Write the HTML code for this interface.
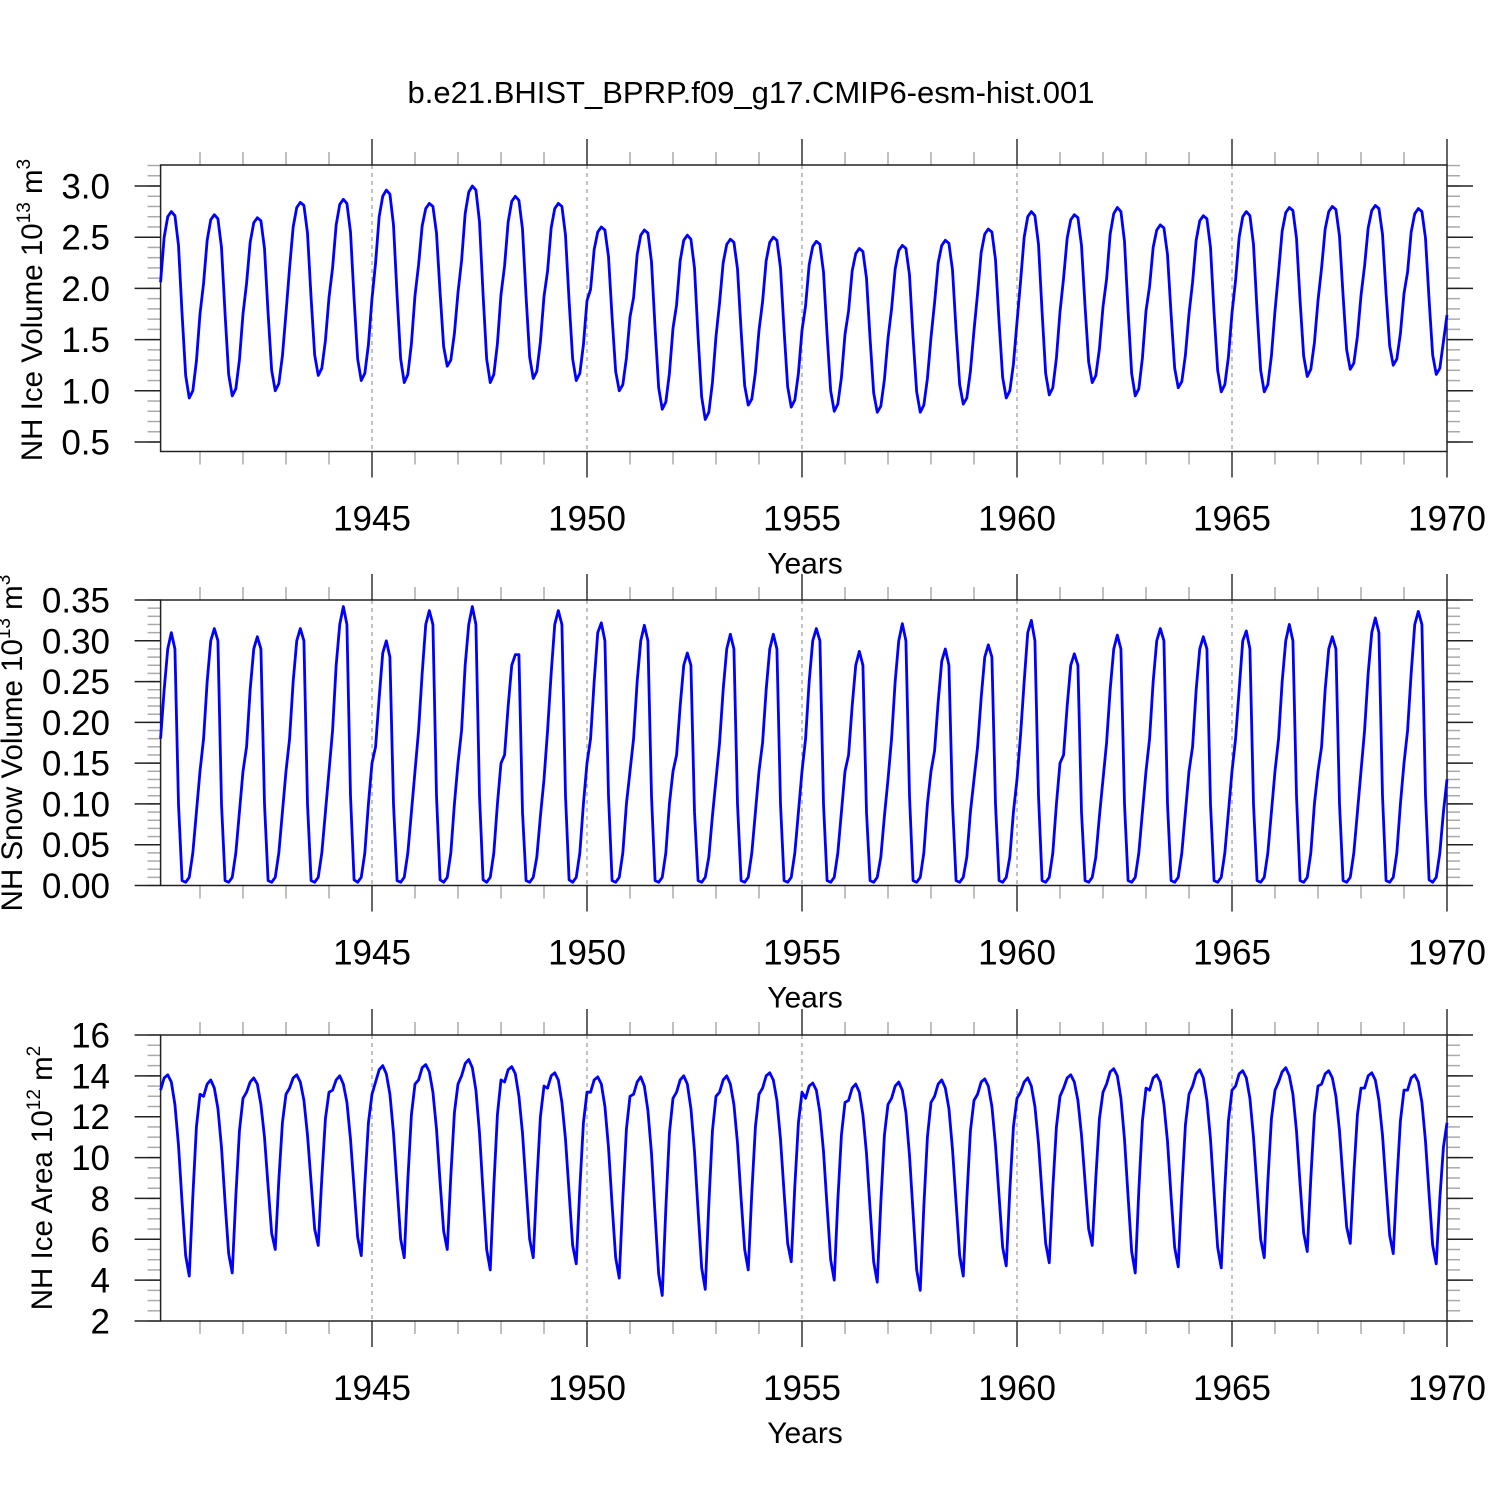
<!DOCTYPE html>
<html><head><meta charset="utf-8">
<style>
body{margin:0;background:#fff;}
svg{display:block;font-family:"Liberation Sans",sans-serif;}
</style></head>
<body>
<svg id="chart" width="1500" height="1500" viewBox="0 0 1500 1500">
<rect width="1500" height="1500" fill="#fff"/>
<text x="751" y="103" text-anchor="middle" font-size="31" fill="#000">b.e21.BHIST_BPRP.f09_g17.CMIP6-esm-hist.001</text>
</svg>
<script>
const iceVolume = [
2.06,2.50,2.70,2.75,2.71,2.42,1.75,1.15,0.93,1.00,1.29,1.75,
2.05,2.47,2.67,2.72,2.68,2.40,1.75,1.16,0.95,1.02,1.30,1.75,
2.05,2.45,2.64,2.69,2.66,2.39,1.76,1.20,1.00,1.07,1.34,1.76,
2.20,2.60,2.79,2.84,2.81,2.54,1.91,1.35,1.15,1.22,1.49,1.91,
2.20,2.62,2.82,2.87,2.83,2.55,1.90,1.31,1.10,1.17,1.45,1.90,
2.25,2.70,2.90,2.96,2.92,2.62,1.93,1.31,1.08,1.16,1.46,1.93,
2.23,2.61,2.78,2.83,2.80,2.54,1.96,1.43,1.24,1.30,1.56,1.96,
2.27,2.73,2.94,3.00,2.96,2.65,1.94,1.31,1.08,1.16,1.46,1.94,
2.22,2.65,2.85,2.90,2.86,2.58,1.92,1.33,1.12,1.19,1.48,1.92,
2.17,2.59,2.78,2.83,2.80,2.52,1.88,1.31,1.10,1.17,1.45,1.88,
1.99,2.38,2.55,2.60,2.57,2.31,1.72,1.19,1.00,1.06,1.32,1.72,
1.91,2.33,2.52,2.57,2.54,2.26,1.61,1.03,0.82,0.89,1.17,1.61,
1.84,2.27,2.47,2.52,2.48,2.20,1.53,0.94,0.72,0.79,1.08,1.53,
1.86,2.25,2.43,2.48,2.45,2.19,1.59,1.05,0.86,0.92,1.18,1.59,
1.87,2.27,2.45,2.50,2.47,2.20,1.59,1.04,0.84,0.91,1.17,1.59,
1.83,2.23,2.41,2.46,2.43,2.16,1.55,1.00,0.80,0.87,1.13,1.55,
1.78,2.17,2.34,2.39,2.36,2.10,1.51,0.98,0.79,0.85,1.11,1.51,
1.80,2.19,2.37,2.42,2.39,2.13,1.52,0.99,0.79,0.86,1.12,1.52,
1.86,2.25,2.42,2.47,2.44,2.18,1.59,1.06,0.87,0.93,1.19,1.59,
1.95,2.35,2.53,2.58,2.55,2.28,1.67,1.13,0.93,1.00,1.26,1.67,
2.07,2.50,2.70,2.75,2.71,2.43,1.77,1.17,0.96,1.03,1.32,1.77,
2.10,2.49,2.67,2.72,2.69,2.42,1.82,1.28,1.08,1.15,1.41,1.82,
2.09,2.53,2.73,2.79,2.75,2.46,1.78,1.17,0.95,1.02,1.32,1.78,
2.02,2.40,2.57,2.62,2.59,2.33,1.75,1.22,1.03,1.09,1.35,1.75,
2.06,2.47,2.66,2.71,2.68,2.40,1.76,1.20,0.99,1.06,1.33,1.76,
2.08,2.50,2.70,2.75,2.71,2.43,1.78,1.20,0.99,1.06,1.34,1.78,
2.16,2.56,2.74,2.79,2.76,2.49,1.88,1.34,1.14,1.21,1.47,1.88,
2.20,2.58,2.75,2.80,2.77,2.51,1.93,1.40,1.21,1.27,1.53,1.93,
2.22,2.59,2.76,2.81,2.78,2.53,1.95,1.44,1.25,1.31,1.56,1.95,
2.16,2.55,2.73,2.78,2.75,2.49,1.89,1.35,1.16,1.22,1.48,1.74];
const snowVolume = [
0.18,0.24,0.29,0.31,0.29,0.10,0.006,0.004,0.01,0.04,0.09,0.14,
0.18,0.25,0.30,0.315,0.30,0.10,0.006,0.004,0.01,0.04,0.09,0.14,
0.17,0.24,0.29,0.305,0.29,0.10,0.006,0.004,0.01,0.04,0.09,0.14,
0.18,0.25,0.30,0.315,0.30,0.10,0.006,0.004,0.01,0.04,0.09,0.14,
0.19,0.27,0.32,0.342,0.32,0.11,0.007,0.004,0.01,0.04,0.10,0.15,
0.17,0.23,0.285,0.30,0.28,0.10,0.006,0.004,0.01,0.04,0.09,0.14,
0.19,0.26,0.32,0.337,0.32,0.11,0.007,0.004,0.01,0.04,0.10,0.15,
0.19,0.27,0.32,0.342,0.32,0.11,0.007,0.004,0.01,0.04,0.10,0.15,
0.16,0.22,0.27,0.283,0.283,0.09,0.006,0.004,0.01,0.035,0.085,0.13,
0.19,0.26,0.32,0.337,0.32,0.11,0.007,0.004,0.01,0.04,0.10,0.15,
0.18,0.25,0.31,0.322,0.30,0.11,0.006,0.004,0.01,0.04,0.10,0.14,
0.18,0.25,0.30,0.319,0.30,0.11,0.006,0.004,0.01,0.04,0.10,0.14,
0.16,0.22,0.27,0.285,0.27,0.09,0.006,0.004,0.01,0.035,0.085,0.13,
0.175,0.24,0.29,0.308,0.29,0.10,0.006,0.004,0.01,0.04,0.09,0.14,
0.175,0.24,0.29,0.308,0.29,0.10,0.006,0.004,0.01,0.04,0.09,0.14,
0.18,0.25,0.30,0.315,0.30,0.10,0.006,0.004,0.01,0.04,0.09,0.14,
0.16,0.22,0.27,0.287,0.27,0.09,0.006,0.004,0.01,0.035,0.085,0.13,
0.18,0.25,0.30,0.321,0.30,0.11,0.006,0.004,0.01,0.04,0.10,0.14,
0.165,0.225,0.275,0.29,0.27,0.10,0.006,0.004,0.01,0.035,0.09,0.13,
0.17,0.23,0.28,0.295,0.28,0.10,0.006,0.004,0.01,0.035,0.09,0.13,
0.185,0.25,0.31,0.325,0.30,0.11,0.006,0.004,0.01,0.04,0.10,0.15,
0.16,0.22,0.27,0.284,0.27,0.09,0.006,0.004,0.01,0.035,0.085,0.13,
0.175,0.24,0.29,0.307,0.29,0.10,0.006,0.004,0.01,0.04,0.09,0.14,
0.18,0.25,0.30,0.315,0.30,0.10,0.006,0.004,0.01,0.04,0.09,0.14,
0.17,0.24,0.29,0.305,0.29,0.10,0.006,0.004,0.01,0.04,0.09,0.14,
0.18,0.24,0.30,0.312,0.29,0.10,0.006,0.004,0.01,0.04,0.09,0.14,
0.18,0.25,0.30,0.320,0.30,0.11,0.006,0.004,0.01,0.04,0.10,0.14,
0.17,0.24,0.29,0.305,0.29,0.10,0.006,0.004,0.01,0.04,0.09,0.14,
0.19,0.26,0.31,0.328,0.31,0.11,0.006,0.004,0.01,0.04,0.10,0.15,
0.19,0.26,0.32,0.336,0.32,0.11,0.007,0.004,0.01,0.04,0.09,0.13];
const iceArea = [
13.3,13.9,14.05,13.7,12.6,10.6,7.8,5.2,4.2,8.1,11.5,13.1,
13.0,13.6,13.8,13.4,12.4,10.5,7.8,5.3,4.35,8.1,11.3,12.9,
13.2,13.7,13.9,13.6,12.6,11.0,8.6,6.3,5.5,8.9,11.7,13.1,
13.4,13.9,14.05,13.7,12.8,11.1,8.8,6.5,5.7,9.0,11.9,13.2,
13.3,13.8,14.0,13.6,12.7,10.9,8.5,6.1,5.2,8.7,11.7,13.1,
13.7,14.3,14.5,14.1,13.1,11.2,8.6,6.0,5.1,8.9,12.1,13.6,
13.8,14.4,14.55,14.2,13.2,11.4,8.8,6.4,5.5,9.1,12.2,13.6,
14.0,14.6,14.8,14.4,13.3,11.2,8.3,5.5,4.5,8.6,12.1,13.8,
13.7,14.3,14.45,14.1,13.0,11.2,8.6,6.0,5.1,8.8,12.0,13.5,
13.4,14.0,14.15,13.8,12.7,10.9,8.3,5.7,4.8,8.5,11.7,13.2,
13.2,13.8,13.95,13.6,12.5,10.5,7.7,5.1,4.1,8.0,11.4,13.0,
13.1,13.7,13.95,13.5,12.3,10.2,7.2,4.3,3.25,7.5,11.2,12.9,
13.2,13.8,14.0,13.6,12.4,10.3,7.4,4.6,3.55,7.7,11.3,13.0,
13.2,13.8,14.0,13.6,12.6,10.7,8.0,5.5,4.5,8.3,11.5,13.1,
13.4,14.0,14.15,13.8,12.8,10.9,8.3,5.8,4.9,8.6,11.7,13.2,
12.9,13.5,13.65,13.3,12.2,10.3,7.6,5.0,4.0,7.9,11.1,12.7,
12.8,13.4,13.6,13.2,12.1,10.2,7.5,4.9,3.9,7.8,11.1,12.6,
12.9,13.5,13.7,13.3,12.2,10.1,7.3,4.5,3.5,7.6,11.0,12.7,
13.0,13.6,13.8,13.4,12.4,10.4,7.8,5.2,4.2,8.0,11.3,12.8,
13.1,13.7,13.85,13.5,12.5,10.6,8.1,5.6,4.7,8.4,11.5,12.9,
13.2,13.7,13.9,13.5,12.5,10.7,8.2,5.8,4.85,8.5,11.5,13.0,
13.4,13.9,14.05,13.7,12.8,11.1,8.8,6.5,5.7,9.0,11.9,13.2,
13.6,14.2,14.35,14.0,12.9,10.9,8.1,5.4,4.35,8.4,11.8,13.4,
13.3,13.9,14.05,13.7,12.6,10.8,8.1,5.6,4.65,8.4,11.6,13.1,
13.5,14.1,14.3,13.9,12.8,10.9,8.2,5.6,4.6,8.5,11.8,13.3,
13.5,14.1,14.25,13.9,12.9,11.0,8.5,6.0,5.1,8.8,11.9,13.3,
13.7,14.2,14.4,14.0,13.1,11.3,8.7,6.3,5.4,9.0,12.1,13.5,
13.6,14.1,14.25,13.9,13.0,11.3,8.9,6.6,5.8,9.2,12.1,13.4,
13.4,14.0,14.15,13.8,12.8,11.1,8.6,6.2,5.3,8.8,11.8,13.3,
13.3,13.9,14.05,13.7,12.7,10.8,8.2,5.7,4.8,8.0,10.5,11.7];
const xTickLabels = [1945,1950,1955,1960,1965,1970];
const volTicks = ["0.5","1.0","1.5","2.0","2.5","3.0"];
const snowTicks = ["0.00","0.05","0.10","0.15","0.20","0.25","0.30","0.35"];
const areaTicks = ["2","4","6","8","10","12","14","16"];

const NS="http://www.w3.org/2000/svg";
const svg=document.getElementById('chart');
function mk(tag,attrs,parent){const e=document.createElementNS(NS,tag);for(const k in attrs)e.setAttribute(k,attrs[k]);(parent||svg).appendChild(e);return e;}
const X0=160.6,X1=1447;
function xs(t){return 157+43*(t-1940);}

const panels=[
 {data:iceVolume,top:165,bot:451.5,vmin:0.5-(451.5-442)/102.4,vmax:3.0+(186-165)/102.4,ticks:volTicks,minor:0.1,title:"NH Ice Volume 10",sup:"13",unit:" m",sup2:"3",name:"ice-volume",tx:42,ty:310},
 {data:snowVolume,top:600,bot:885.5,vmin:0,vmax:0.35,ticks:snowTicks,minor:0.01,title:"NH Snow Volume 10",sup:"13",unit:" m",sup2:"3",name:"snow-volume",tx:22,ty:743},
 {data:iceArea,top:1035,bot:1321,vmin:2,vmax:16,ticks:areaTicks,minor:0.5,title:"NH Ice Area 10",sup:"12",unit:" m",sup2:"2",name:"ice-area",tx:52,ty:1178}
];
panels.forEach(p=>{
  const g=mk('g',{});
  
  
  const ys=v=>p.bot-(v-p.vmin)/(p.vmax-p.vmin)*(p.bot-p.top);
  for(let yr=1945;yr<=1965;yr+=5){
    const l=mk('line',{x1:xs(yr),x2:xs(yr),y1:p.top,y2:p.bot,stroke:'#999','stroke-width':1.2,'stroke-dasharray':'4,4'},g);
    
    
  }
  for(let yr=1941;yr<=1970;yr++){
    const major=yr%5===0;
    const len=major?26:13, col=major?'#333':'#aaa';
    mk('line',{x1:xs(yr),x2:xs(yr),y1:p.top,y2:p.top-len,stroke:col,'stroke-width':1.5},g);
    mk('line',{x1:xs(yr),x2:xs(yr),y1:p.bot,y2:p.bot+len,stroke:col,'stroke-width':1.5},g);
  }
  xTickLabels.forEach(yr=>{
    const t=mk('text',{x:xs(yr),y:p.bot+79,'text-anchor':'middle','font-size':35,fill:'#000'},g);
    t.textContent=yr;
    
    
  });
  const xt=mk('text',{x:805,y:p.bot+122,'text-anchor':'middle','font-size':30,fill:'#000'},g);
  xt.textContent='Years';
  
  
  const v0=parseFloat(p.ticks[0]),vN=parseFloat(p.ticks[p.ticks.length-1]);
  const step=(vN-v0)/(p.ticks.length-1);
  for(let v=v0-step;v<=p.vmax+1e-9;v+=p.minor){
    if(v<p.vmin-1e-9)continue;
    const y=ys(v);
    mk('line',{x1:X0,x2:X0-13,y1:y,y2:y,stroke:'#aaa','stroke-width':1.5},g);
    mk('line',{x1:X1,x2:X1+13,y1:y,y2:y,stroke:'#aaa','stroke-width':1.5},g);
  }
  p.ticks.forEach(lbl=>{
    const y=ys(parseFloat(lbl));
    mk('line',{x1:X0,x2:X0-26,y1:y,y2:y,stroke:'#222','stroke-width':1.5},g);
    mk('line',{x1:X1,x2:X1+26,y1:y,y2:y,stroke:'#222','stroke-width':1.5},g);
    const t=mk('text',{x:110,y:y+12.5,'text-anchor':'end','font-size':35,fill:'#000'},g);
    t.textContent=lbl;
    
    
  });
  mk('rect',{x:X0,y:p.top,width:X1-X0,height:p.bot-p.top,fill:'none',stroke:'#222','stroke-width':1.5},g);
  const pts=p.data.map((v,i)=>xs(1940+(i+1)/12).toFixed(2)+','+ys(v).toFixed(2)).join(' ');
  const pl=mk('polyline',{points:pts,fill:'none',stroke:'#0000ff','stroke-width':2.8,'stroke-linejoin':'round'},g);
  
  
  const yt=mk('text',{x:0,y:0,'font-size':29.5,fill:'#000','text-anchor':'middle',transform:`translate(${p.tx},${p.ty}) rotate(-90)`},g);
  
  
  const a=mk('tspan',{},yt);a.textContent=p.title;
  const b=mk('tspan',{dy:-12,'font-size':19},yt);b.textContent=p.sup;
  const c=mk('tspan',{dy:12},yt);c.textContent=p.unit;
  const d=mk('tspan',{dy:-12,'font-size':19},yt);d.textContent=p.sup2;
});
</script>
</body></html>
